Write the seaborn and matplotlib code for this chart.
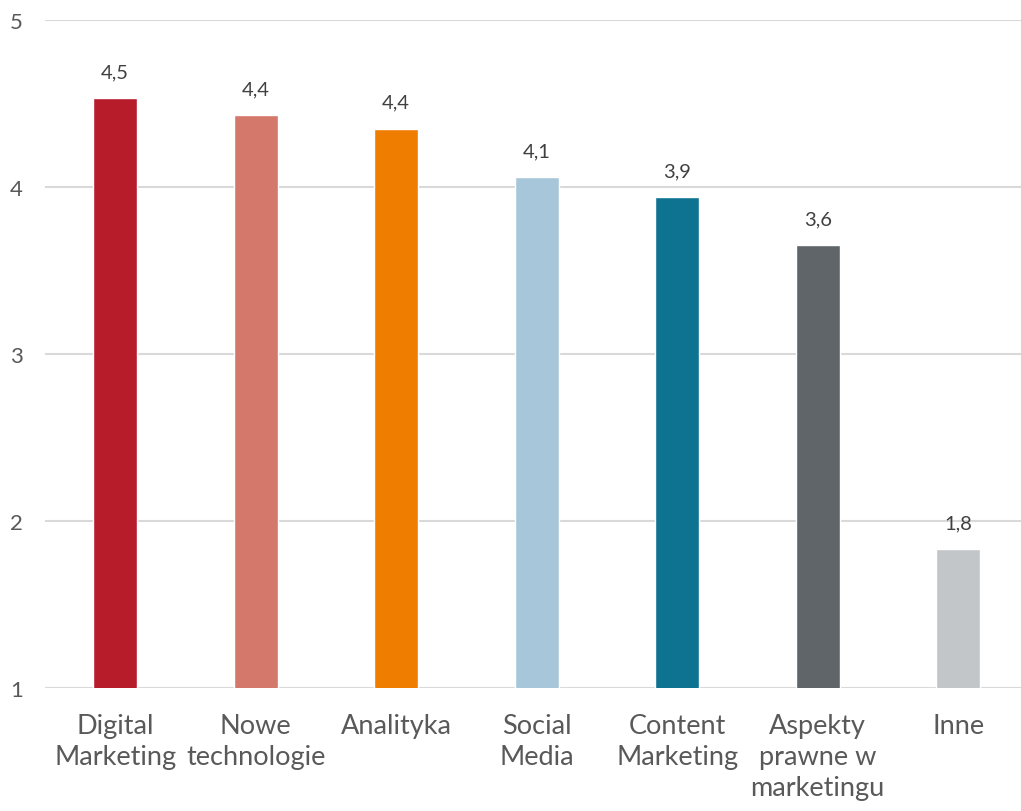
import matplotlib
matplotlib.use("Agg")
import matplotlib.pyplot as plt
import seaborn as sns
import pandas as pd

categories = ["Digital\nMarketing", "Nowe\ntechnologie", "Analityka", "Social\nMedia",
              "Content\nMarketing", "Aspekty\nprawne w\nmarketingu", "Inne"]
values = [4.53, 4.43, 4.35, 4.06, 3.94, 3.65, 1.83]
value_labels = ["4,5", "4,4", "4,4", "4,1", "3,9", "3,6", "1,8"]
colors = ["#B71C2B", "#D4786C", "#EF7D00", "#A8C6D9", "#0E7391", "#5F6569", "#C2C6C9"]
yticks = [1, 2, 3, 4, 5]

sns.set_theme(style="white")
plt.rcParams['font.family'] = ['Lato', 'DejaVu Sans']

df = pd.DataFrame({"cat": categories, "val": values})

fig = plt.figure(figsize=(10.21, 8.12), dpi=100)
ax = fig.add_axes([45/1021, (812-689)/812, 976/1021, 668/812])

sns.barplot(data=df, x="cat", y="val", hue="cat", palette=colors, legend=False,
            width=0.313, ax=ax, saturation=1, bottom=0)

ax.set_ylim(1, 5)
ax.set_xlim(-0.5, 6.447)
ax.set_yticks(yticks)
ax.set_yticklabels([str(t) for t in yticks])
ax.yaxis.grid(True, color="#D9D9D9", linewidth=1.5)
ax.set_axisbelow(True)
for s in ax.spines.values():
    s.set_visible(False)
ax.set_xlabel("")
ax.set_ylabel("")
ax.tick_params(axis="y", length=0, pad=16, labelsize=16, labelcolor="#595959")
ax.tick_params(axis="x", length=0, pad=18, labelsize=19.5, labelcolor="#595959")
for lbl in ax.get_xticklabels():
    lbl.set_linespacing(1.3)

for i, (v, t) in enumerate(zip(values, value_labels)):
    ax.annotate(t, xy=(i, v), xytext=(0, 13), textcoords="offset points",
                ha="center", va="bottom", fontsize=14.5, color="#404040")

fig.savefig("out.png", dpi=100)
